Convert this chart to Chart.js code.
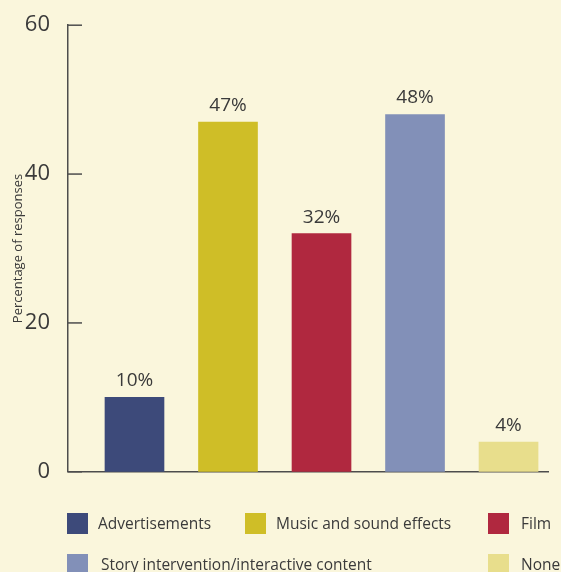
<!DOCTYPE html>
<html>
<head>
<meta charset="utf-8">
<script src="https://cdn.jsdelivr.net/npm/chart.js@4.4.1/dist/chart.umd.min.js"></script>
<style>
    body { margin: 0; background: #faf6dc; font-family: 'Open Sans', sans-serif; }
    .wrap { position: relative; width: 561px; height: 572px; overflow: hidden; }
    .chart-box { position: absolute; left: 0; top: 2px; width: 561px; height: 493px; }
    .legend { position: absolute; left: 0; top: 0; width: 561px; height: 572px; pointer-events: none; }
    .legend-item { position: absolute; display: flex; align-items: center; color: #3a3a3a; font-size: 15.5px; white-space: nowrap; }
    .legend-item span.box { display: inline-block; width: 21px; height: 21px; margin-right: 10px; }
</style>
</head>
<body>
<div class="wrap">
    <div class="chart-box"><canvas id="usageChart"></canvas></div>
    <div class="legend" id="legend"></div>
</div>
<script>
// Survey data
const categories = ['Advertisements', 'Music and sound effects', 'Film', 'Story intervention/interactive content', 'None'];
const responses = [10, 47, 32, 48, 4];
const yTicks = [0, 20, 40, 60];
const barColors = ['#3d4a7a', '#cfbe27', '#b0283f', '#8290b8', '#e8de8c'];

const textColor = '#3a3a3a';
const axisColor = '#4d4d4d';

// legend slots (left, top, gap after swatch) for each category
const legendSlots = [[67, 512, 10], [245, 512, 10], [488, 512, 12], [67, 553, 13], [488, 553, 12]];

// Inward tick marks on the y axis
const innerTicks = {
    id: 'innerTicks',
    afterDraw(chart) {
        const ctx = chart.ctx;
        const y = chart.scales.y;
        const left = chart.chartArea.left;
        ctx.save();
        ctx.strokeStyle = axisColor;
        ctx.lineWidth = 1.5;
        yTicks.forEach(v => {
            const py = y.getPixelForValue(v);
            ctx.beginPath();
            ctx.moveTo(left, py);
            ctx.lineTo(left + 14, py);
            ctx.stroke();
        });
        ctx.restore();
    }
};

// Percentage labels above the bars
const barLabels = {
    id: 'barLabels',
    afterDatasetsDraw(chart) {
        const ctx = chart.ctx;
        const meta = chart.getDatasetMeta(0);
        ctx.save();
        ctx.fillStyle = textColor;
        ctx.font = '19px "Open Sans"';
        ctx.textAlign = 'center';
        ctx.textBaseline = 'bottom';
        meta.data.forEach((bar, i) => {
            ctx.fillText(responses[i] + '%', bar.x, bar.y - 7);
        });
        ctx.restore();
    }
};

const ctx = document.getElementById('usageChart').getContext('2d');
new Chart(ctx, {
    type: 'bar',
    data: {
        datasets: [{
            data: responses.map((v, i) => ({ x: i, y: v })),
            backgroundColor: barColors,
            barThickness: 59
        }]
    },
    options: {
        responsive: true,
        maintainAspectRatio: false,
        animation: false,
        layout: { padding: { top: 20, right: 13, bottom: 9, left: 0 } },
        plugins: {
            legend: { display: false },
            tooltip: { enabled: false }
        },
        scales: {
            x: {
                type: 'linear',
                offset: false,
                min: -0.711,
                max: 4.422,
                grid: { display: false },
                ticks: { display: false },
                border: { display: true, color: axisColor, width: 1.5 }
            },
            y: {
                min: 0,
                max: 60,
                afterFit(scale) { scale.width = 68; },
                afterBuildTicks(scale) { scale.ticks = yTicks.map(v => ({ value: v })); },
                grid: { display: false },
                border: { display: true, color: axisColor, width: 1.5 },
                ticks: {
                    color: textColor,
                    padding: 10,
                    font: { family: 'Open Sans', size: 22 }
                },
                title: {
                    display: true,
                    text: 'Percentage of responses',
                    color: textColor,
                    padding: { top: 10, bottom: 0 },
                    font: { family: 'Open Sans', size: 13 }
                }
            }
        }
    },
    plugins: [innerTicks, barLabels]
});

// Legend built from the same categories and colours
const legend = document.getElementById('legend');
categories.forEach((name, i) => {
    const item = document.createElement('div');
    item.className = 'legend-item';
    item.style.left = legendSlots[i][0] + 'px';
    item.style.top = legendSlots[i][1] + 'px';
    item.innerHTML = '<span class="box" style="margin-right:' + legendSlots[i][2] + 'px;background:' + barColors[i] + '"></span>' + name;
    legend.appendChild(item);
});
</script>
</body>
</html>
